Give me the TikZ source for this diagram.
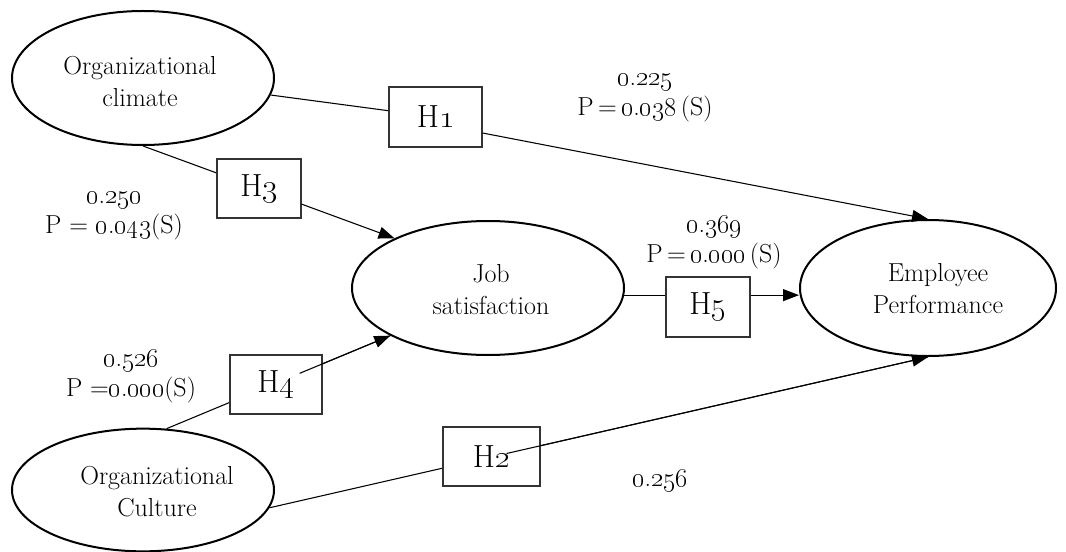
\documentclass[tikz,border=0pt]{standalone}
\usepackage{fix-cm}
\usetikzlibrary{arrows.meta,calc,shapes.geometric}
\newcommand\osf[1]{\oldstylenums{#1}}
\begin{document}
\begin{tikzpicture}[x=0.75pt,y=-0.75pt,
  ell/.style={draw=black, line width=1.5pt, ellipse, inner sep=0pt},
  elltext/.style={font=\fontsize{19.5}{24}\selectfont, align=center, inner sep=0pt},
  hbox/.style={draw=black!80, line width=0.8pt, fill=white, inner sep=0pt, font=\fontsize{24}{28}\selectfont},
  val/.style={font=\fontsize{19.5}{22.5}\selectfont, align=center, inner sep=0pt},
  conn/.style={line width=0.8pt, draw=black},
  arr/.style={conn, -{Triangle[length=12pt,width=9pt]}}]
\path[use as bounding box] (0,0) rectangle (1066,552);

% ellipses
\node[ell, minimum width=196.5pt, minimum height=100.5pt] (clim) at (143,78) {};
\node[ell, minimum width=204pt, minimum height=100.5pt] (job) at (488,288) {};
\node[ell, minimum width=192pt, minimum height=102pt] (emp) at (928,288) {};
\node[ell, minimum width=196.5pt, minimum height=92pt] (cult) at (143,490) {};

\node[elltext] (climt) at (140,82) {Organizational\\climate};
\node[elltext] (jobt) at (491,290) {Job\\satisfaction};
\node[elltext] (empt) at (938,289) {Employee\\Performance};
\node[elltext] (cultt) at (157,492) {Organizational\\Culture};

% box positions (coordinates for routing)
\coordinate (h1c) at (435.5,117);
\coordinate (h3c) at (259,188.5);
\coordinate (h5c) at (708,307);

% connectors under boxes
\draw[conn] (clim) -- (h1c);
\draw[conn] (clim.south) -- (h3c);
\draw[arr] (cult.69) -- (job.206);
\draw[arr] (cult.-8) -- (emp.south);

% boxes
\node[hbox, minimum width=69.75pt, minimum height=45pt] (H1) at (h1c) {H\osf{1}};
\node[hbox, minimum width=63pt, minimum height=44.25pt] (H3) at (h3c) {H\osf{3}};
\node[hbox, minimum width=69pt, minimum height=44.25pt] (H4) at (276,384.5) {H\osf{4}};
\node[hbox, minimum width=72.75pt, minimum height=44.25pt] (H2) at (491.5,456.5) {H\osf{2}};
\node[hbox, minimum width=63pt, minimum height=45pt] (H5) at (h5c) {H\osf{5}};

% visible continuation of the lines crossing H4 and H2
\coordinate (h4out) at ($(cult.69)!0.595!(job.206)$);
\coordinate (h2out) at ($(cult.-8)!0.36!(emp.south)$);
\draw[conn] (h4out) -- (job.206);
\draw[conn] (h2out) -- (emp.south);

% other arrows
\draw[arr] ([yshift=-12pt]H1.east) -- (emp.north);
\draw[arr] (H3) -- (job.152);
\coordinate (h5y) at (job.-3.4);
\draw[conn] (h5y) -- (h5y -| H5.west);
\draw[arr] (h5y -| H5.east) -- (h5y -| emp.west);

% values
\node[val] (v1) at (645,98) {\osf{0}.\osf{225}\\P\,=\,\osf{0}.\osf{038}\,(S)};
\node[val] (v3) at (114,216) {\osf{0}.\osf{250}\\P = \osf{0}.\osf{043}(S)};
\node[val] (v5) at (714,242) {\osf{0}.\osf{369}\\P\,=\,\osf{0}.\osf{000}\,(S)};
\node[val] (v4) at (131,376) {\osf{0}.\osf{526}\\P =\osf{0}.\osf{000}(S)};
\node[val] (v2) at (660,481) {\osf{0}.\osf{256}};
\end{tikzpicture}
\end{document}
